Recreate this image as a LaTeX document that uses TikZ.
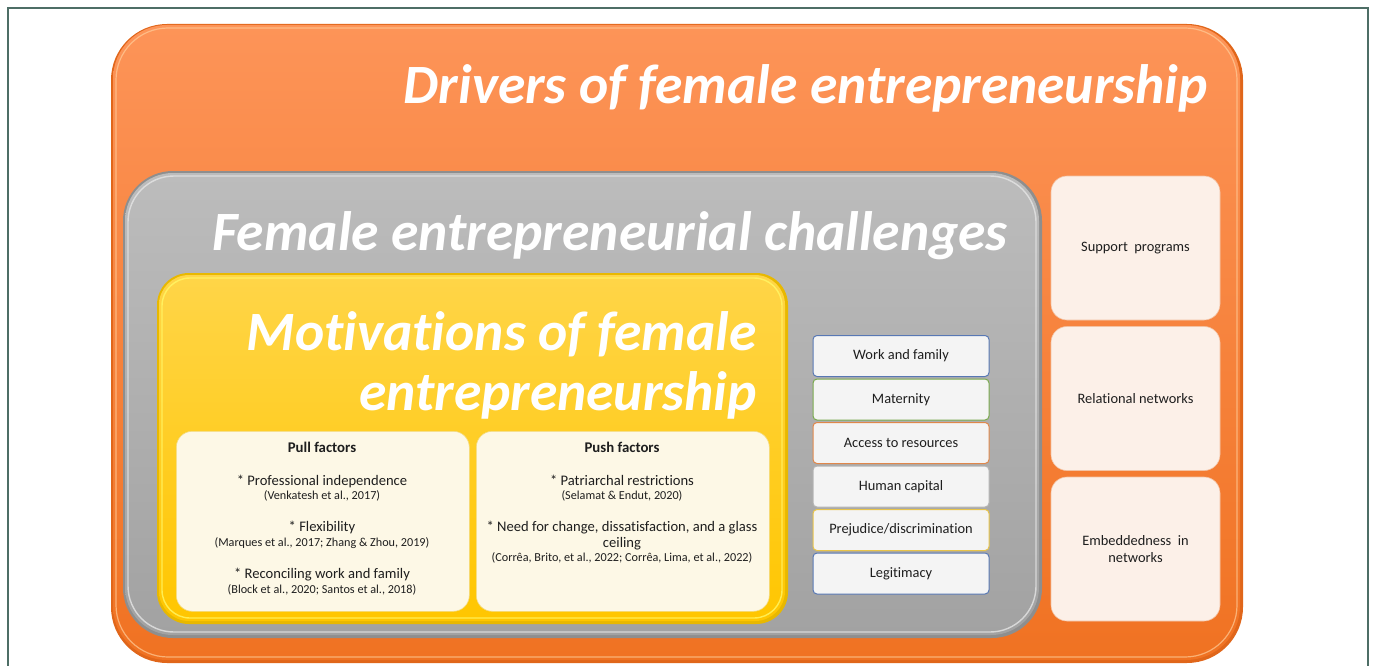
\documentclass[tikz,border=0pt]{standalone}
\usepackage{fontspec}
\setmainfont[Ligatures=NoCommon]{Carlito}
\definecolor{frameline}{HTML}{4E6E66}
\definecolor{orgtop}{HTML}{FD9458}
\definecolor{orgbot}{HTML}{F07222}
\definecolor{orgedge}{HTML}{E0661A}
\definecolor{graytop}{HTML}{BCBCBC}
\definecolor{graybot}{HTML}{A2A2A2}
\definecolor{grayedge}{HTML}{8E8E8E}
\definecolor{yeltop}{HTML}{FFD548}
\definecolor{yelbot}{HTML}{FFC600}
\definecolor{yeledge}{HTML}{E8B800}
\definecolor{cream}{HTML}{FDF8E6}
\definecolor{peach}{HTML}{FCF0E8}
\definecolor{chal}{HTML}{F4F4F4}
\definecolor{txt}{HTML}{1E1E1E}
\definecolor{eblue}{HTML}{5878B4}
\definecolor{egreen}{HTML}{7AAA4E}
\definecolor{eorange}{HTML}{E0874A}
\definecolor{egray}{HTML}{B4B4B4}
\definecolor{eyellow}{HTML}{E8C44A}
\tikzset{
  x=1pt, y=-1pt,
  heading/.style={text=white, font=\fontsize{55.5}{60}\selectfont\bfseries\itshape, inner sep=0pt},
  body/.style={text=txt, font=\fontsize{14.6}{17}\selectfont, inner sep=0pt},
  bodybold/.style={text=txt, font=\fontsize{14.8}{17}\selectfont\bfseries, inner sep=0pt},
  cite/.style={text=txt, font=\fontsize{12.2}{14}\selectfont, inner sep=0pt},
  chalbox/.style={draw=#1, line width=1pt, fill=chal, rounded corners=4pt, text=txt,
    font=\fontsize{14.4}{17}\selectfont, minimum width=176pt, minimum height=41pt, inner sep=0pt},
  sidebox/.style={fill=peach, draw=orgedge!40, line width=0.6pt, rounded corners=16pt, text=txt,
    font=\fontsize{14.4}{17}\selectfont, align=center, minimum width=169pt, minimum height=144pt, inner sep=0pt},
  factorbox/.style={fill=cream, draw=yeledge!50, line width=0.6pt, rounded corners=16pt,
    minimum width=293pt, minimum height=180pt, inner sep=0pt},
}
\begin{document}
\begin{tikzpicture}
\useasboundingbox (0,0) rectangle (1375,666);
% page frame
\draw[frameline, line width=1.6pt] (8,700) -- (8,8) -- (1368,8) -- (1368,700);

% outer orange panel
\fill[orgedge, rounded corners=56pt] (111,24) rectangle (1243,663);
\shade[top color=orgtop, bottom color=orgbot, rounded corners=54pt] (113,25) rectangle (1240,660);
\draw[white!60!orange, line width=1.2pt, opacity=0.7, rounded corners=52pt] (116,28) rectangle (1237,657);
\node[heading, anchor=base east] (drivers) at (1208,103) {Drivers of female entrepreneurship};

% gray panel
\fill[grayedge, rounded corners=50pt] (123,171) rectangle (1042,638);
\shade[top color=graytop, bottom color=graybot, rounded corners=48pt] (125,173) rectangle (1039,635);
\draw[white!80!gray, line width=1.4pt, opacity=0.8, rounded corners=46pt] (128,176) rectangle (1036,632);
\node[heading, anchor=base east] (challenges) at (1008,250) {Female entrepreneurial challenges};

% yellow panel
\fill[yeledge, rounded corners=32pt] (157,273) rectangle (788,624);
\shade[top color=yeltop, bottom color=yelbot, rounded corners=30pt] (159,275) rectangle (785,621);
\draw[yellow!60!white, line width=1.4pt, opacity=0.8, rounded corners=28pt] (162,278) rectangle (782,618);
\node[heading, anchor=base east] (motiv1) at (757,350) {Motivations of female};
\node[heading, anchor=base east] (motiv2) at (757,410) {entrepreneurship};

% pull factors
\node[factorbox, anchor=north west] (pull) at (176,431) {};
\node[bodybold, anchor=base] (pullh) at (322,452) {Pull factors};
\node[body, anchor=base] (pull1) at (322,485) {* Professional independence};
\node[cite, anchor=base] (pull1c) at (322,499) {(Venkatesh et al., 2017)};
\node[body, anchor=base] (pull2) at (322,531) {* Flexibility};
\node[cite, anchor=base] (pull2c) at (322,546) {(Marques et al., 2017; Zhang \& Zhou, 2019)};
\node[body, anchor=base] (pull3) at (322,578) {* Reconciling work and family};
\node[cite, anchor=base] (pull3c) at (322,593) {(Block et al., 2020; Santos et al., 2018)};

% push factors
\node[factorbox, anchor=north west] (push) at (476,431) {};
\node[bodybold, anchor=base] (pushh) at (622,452) {Push factors};
\node[body, anchor=base] (push1) at (622,485) {* Patriarchal restrictions};
\node[cite, anchor=base] (push1c) at (622,499) {(Selamat \& Endut, 2020)};
\node[body, anchor=base] (push2) at (622,531) {* Need for change, dissatisfaction, and a glass};
\node[body, anchor=base] (push2b) at (622,547) {ceiling};
\node[cite, anchor=base] (push2c) at (622,561) {(Corrêa, Brito, et al., 2022; Corrêa, Lima, et al., 2022)};

% challenges list
\node[chalbox=eblue] (work) at (901,356) {Work and family};
\node[chalbox=egreen] (mat) at (901,399.5) {Maternity};
\node[chalbox=eorange] (access) at (901,443) {Access to resources};
\node[chalbox=egray] (human) at (901,486.5) {Human capital};
\node[chalbox=eyellow] (prej) at (901,530) {Prejudice/discrimination};
\node[chalbox=eblue] (legit) at (901,573.5) {Legitimacy};

% drivers list
\node[sidebox] (support) at (1135.5,248) {Support\ \ programs};
\node[sidebox] (relational) at (1135.5,398.5) {Relational networks};
\node[sidebox] (embed) at (1135.5,549) {Embeddedness\ \ in\\networks};
\end{tikzpicture}
\end{document}
